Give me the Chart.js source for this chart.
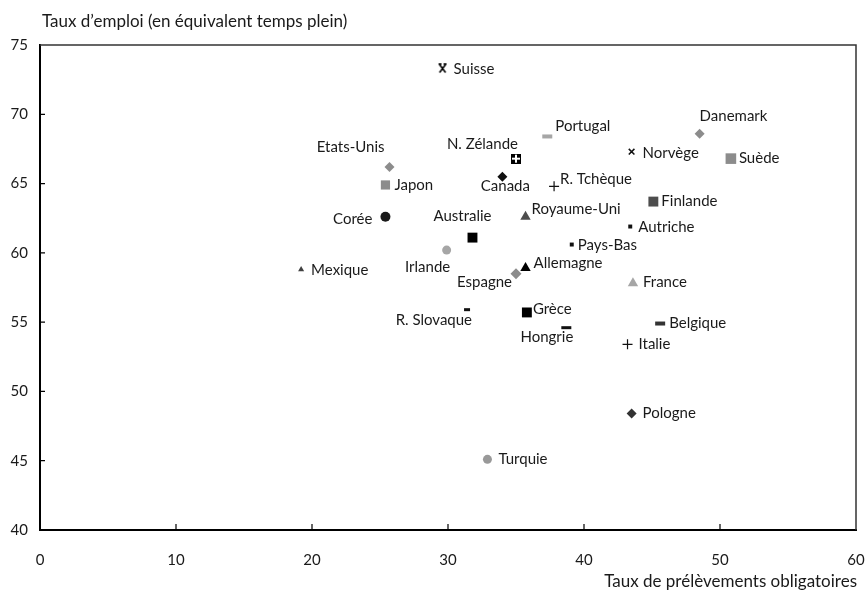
<!DOCTYPE html>
<html>
<head>
<meta charset="utf-8">
<script src="https://cdn.jsdelivr.net/npm/chart.js@4/dist/chart.umd.min.js"></script>
<style>
  body { margin: 0; background: #fff; }
  #wrap { width: 867px; height: 596px; }
</style>
</head>
<body>
<div id="wrap"><canvas id="scatter"></canvas></div>
<script>
// Data
const countries = ['Suisse', 'Portugal', 'Etats-Unis', 'N. Zélande', 'Japon', 'Canada', 'R. Tchèque',
    'Danemark', 'Norvège', 'Suède', 'Finlande', 'Autriche', 'Pays-Bas', 'Royaume-Uni', 'Corée',
    'Australie', 'Irlande', 'Mexique', 'Allemagne', 'Espagne', 'R. Slovaque', 'Grèce', 'Hongrie',
    'France', 'Belgique', 'Italie', 'Pologne', 'Turquie'];
const prelevements = [29.6, 37.3, 25.7, 35.0, 25.4, 34.0, 37.8,
    48.5, 43.5, 50.8, 45.1, 43.4, 39.1, 35.7, 25.4,
    31.8, 29.9, 19.2, 35.7, 35.0, 31.4, 35.8, 38.7,
    43.6, 45.6, 43.2, 43.5, 32.9];
const emploi = [73.3, 68.4, 66.2, 66.8, 64.9, 65.5, 64.8,
    68.6, 67.3, 66.8, 63.7, 61.9, 60.6, 62.6, 62.6,
    61.1, 60.2, 58.8, 58.9, 58.5, 55.9, 55.7, 54.6,
    57.8, 54.9, 53.4, 48.4, 45.1];
const xTicks = [0, 10, 20, 30, 40, 50, 60];
const yTicks = [40, 45, 50, 55, 60, 65, 70, 75];

const font = 'Lato, "Open Sans", sans-serif';
const textColor = '#1a1a1a';

// Custom markers
function nzMarker() {
    const c = document.createElement('canvas');
    c.width = 10; c.height = 10;
    const g = c.getContext('2d');
    g.fillStyle = '#000';
    g.fillRect(0, 0, 10, 10);
    g.fillStyle = '#fff';
    g.fillRect(4, 1, 2, 8);
    g.fillRect(1, 4, 8, 2);
    return c;
}
function suisseMarker() {
    const c = document.createElement('canvas');
    c.width = 10; c.height = 11;
    const g = c.getContext('2d');
    g.strokeStyle = '#000';
    g.lineWidth = 1.6;
    g.beginPath();
    g.moveTo(2, 1.5); g.lineTo(8, 9.5);
    g.moveTo(8, 1.5); g.lineTo(2, 9.5);
    g.moveTo(1, 1); g.lineTo(4, 1);
    g.moveTo(6, 1); g.lineTo(9, 1);
    g.stroke();
    return c;
}

// marker style per country (same order as countries)
const markers = [
    [suisseMarker(), 5, '#000', 0],
    ['line', 5, '#a6a6a6', 4],
    ['rectRot', 5, '#8c8c8c', 0],
    [nzMarker(), 5, '#000', 0],
    ['rect', 6.5, '#8c8c8c', 0],
    ['rectRot', 5, '#111', 0],
    ['cross', 5, '#111', 1.2],
    ['rectRot', 5, '#8c8c8c', 0],
    ['crossRot', 4, '#111', 1.5],
    ['rect', 7.5, '#8c8c8c', 0],
    ['rect', 7, '#4d4d4d', 0],
    ['rect', 2.8, '#111', 0],
    ['rect', 2.8, '#111', 0],
    ['triangle', 6, '#4d4d4d', 0],
    ['circle', 5, '#1a1a1a', 0],
    ['rect', 7, '#000', 0],
    ['circle', 4.5, '#a6a6a6', 0],
    ['triangle', 3.5, '#404040', 0],
    ['triangle', 6, '#000', 0],
    ['rectRot', 5.5, '#8c8c8c', 0],
    ['line', 3, '#111', 3],
    ['rect', 7, '#000', 0],
    ['line', 5, '#111', 3],
    ['triangle', 6, '#a6a6a6', 0],
    ['line', 5, '#333', 4],
    ['cross', 5, '#111', 1.2],
    ['rectRot', 5, '#333', 0],
    ['circle', 4.5, '#999', 0]
];

// label offset [dx, dy, align]
const labelPos = [
    [11, 1, 'left'], [8, -10, 'left'], [-5, -20, 'right'], [2, -14, 'right'],
    [9, 0, 'left'], [3, 10, 'center'], [6, -7, 'left'], [0, -18, 'left'],
    [11, 1, 'left'], [8, 0, 'left'], [8, 0, 'left'], [8, 1, 'left'],
    [6, 1, 'left'], [6, -8, 'left'], [-13, 2, 'right'], [-10, -21, 'center'],
    [-19, 17, 'center'], [10, 1, 'left'], [8, -5, 'left'], [-4, 9, 'right'],
    [5, 10, 'right'], [6, -3, 'left'], [7, 9, 'right'], [10, -1, 'left'],
    [9, 0, 'left'], [11, 0, 'left'], [11, 0, 'left'], [11, 0, 'left']
];

const labelsPlugin = {
    id: 'pointLabels',
    afterDatasetsDraw(chart) {
        const ctx = chart.ctx;
        const meta = chart.getDatasetMeta(0);
        ctx.save();
        ctx.font = '15px ' + font;
        ctx.fillStyle = textColor;
        ctx.textBaseline = 'middle';
        meta.data.forEach((pt, i) => {
            const p = labelPos[i];
            ctx.textAlign = p[2];
            ctx.fillText(countries[i], pt.x + p[0], pt.y + p[1]);
        });
        ctx.restore();
    }
};

const framePlugin = {
    id: 'frame',
    afterDraw(chart) {
        const { ctx, chartArea: a, scales } = chart;
        ctx.save();
        // top and right lines
        ctx.strokeStyle = '#333';
        ctx.lineWidth = 1.5;
        ctx.beginPath();
        ctx.moveTo(a.left, a.top); ctx.lineTo(a.right, a.top); ctx.lineTo(a.right, a.bottom);
        ctx.stroke();
        // inner ticks
        ctx.strokeStyle = '#000';
        ctx.lineWidth = 1.2;
        ctx.beginPath();
        yTicks.slice(1, -1).forEach(v => {
            const y = scales.y.getPixelForValue(v);
            ctx.moveTo(a.left, y); ctx.lineTo(a.left + 5, y);
        });
        xTicks.slice(1, -1).forEach(v => {
            const x = scales.x.getPixelForValue(v);
            ctx.moveTo(x, a.bottom); ctx.lineTo(x, a.bottom - 6);
        });
        ctx.stroke();
        // axis titles
        ctx.font = '17px ' + font;
        ctx.fillStyle = textColor;
        ctx.textBaseline = 'middle';
        ctx.textAlign = 'left';
        ctx.fillText('Taux d\u2019emploi (en équivalent temps plein)', a.left + 2, 22);
        ctx.textAlign = 'right';
        ctx.fillText('Taux de prélèvements obligatoires', a.right + 1, 582);
        ctx.restore();
    }
};

new Chart(document.getElementById('scatter'), {
    type: 'scatter',
    data: {
        datasets: [{
            data: prelevements.map((x, i) => ({ x: x, y: emploi[i] })),
            pointStyle: markers.map(m => m[0]),
            pointRadius: markers.map(m => m[1]),
            pointHoverRadius: markers.map(m => m[1]),
            pointBackgroundColor: markers.map(m => m[2]),
            pointBorderColor: markers.map(m => m[2]),
            pointBorderWidth: markers.map(m => m[3])
        }]
    },
    options: {
        responsive: true,
        maintainAspectRatio: false,
        animation: false,
        layout: { padding: { top: 45, right: 11, left: 0, bottom: 0 } },
        plugins: {
            legend: { display: false },
            tooltip: { enabled: false }
        },
        scales: {
            x: {
                type: 'linear',
                min: 0,
                max: 60,
                afterBuildTicks: s => { s.ticks = xTicks.map(v => ({ value: v })); },
                afterFit: s => { s.height = 66; s.paddingLeft = 0; s.paddingRight = 0; },
                grid: { display: false, drawTicks: false },
                border: { display: true, color: '#000', width: 2 },
                ticks: { padding: 21, color: textColor, font: { family: font, size: 15 } }
            },
            y: {
                min: 40,
                max: 75,
                afterBuildTicks: s => { s.ticks = yTicks.map(v => ({ value: v })); },
                afterFit: s => { s.width = 40; s.paddingTop = 0; s.paddingBottom = 0; },
                grid: { display: false, drawTicks: false },
                border: { display: true, color: '#000', width: 2 },
                ticks: { padding: 12, color: textColor, font: { family: font, size: 15 } }
            }
        }
    },
    plugins: [labelsPlugin, framePlugin]
});
</script>
</body>
</html>
